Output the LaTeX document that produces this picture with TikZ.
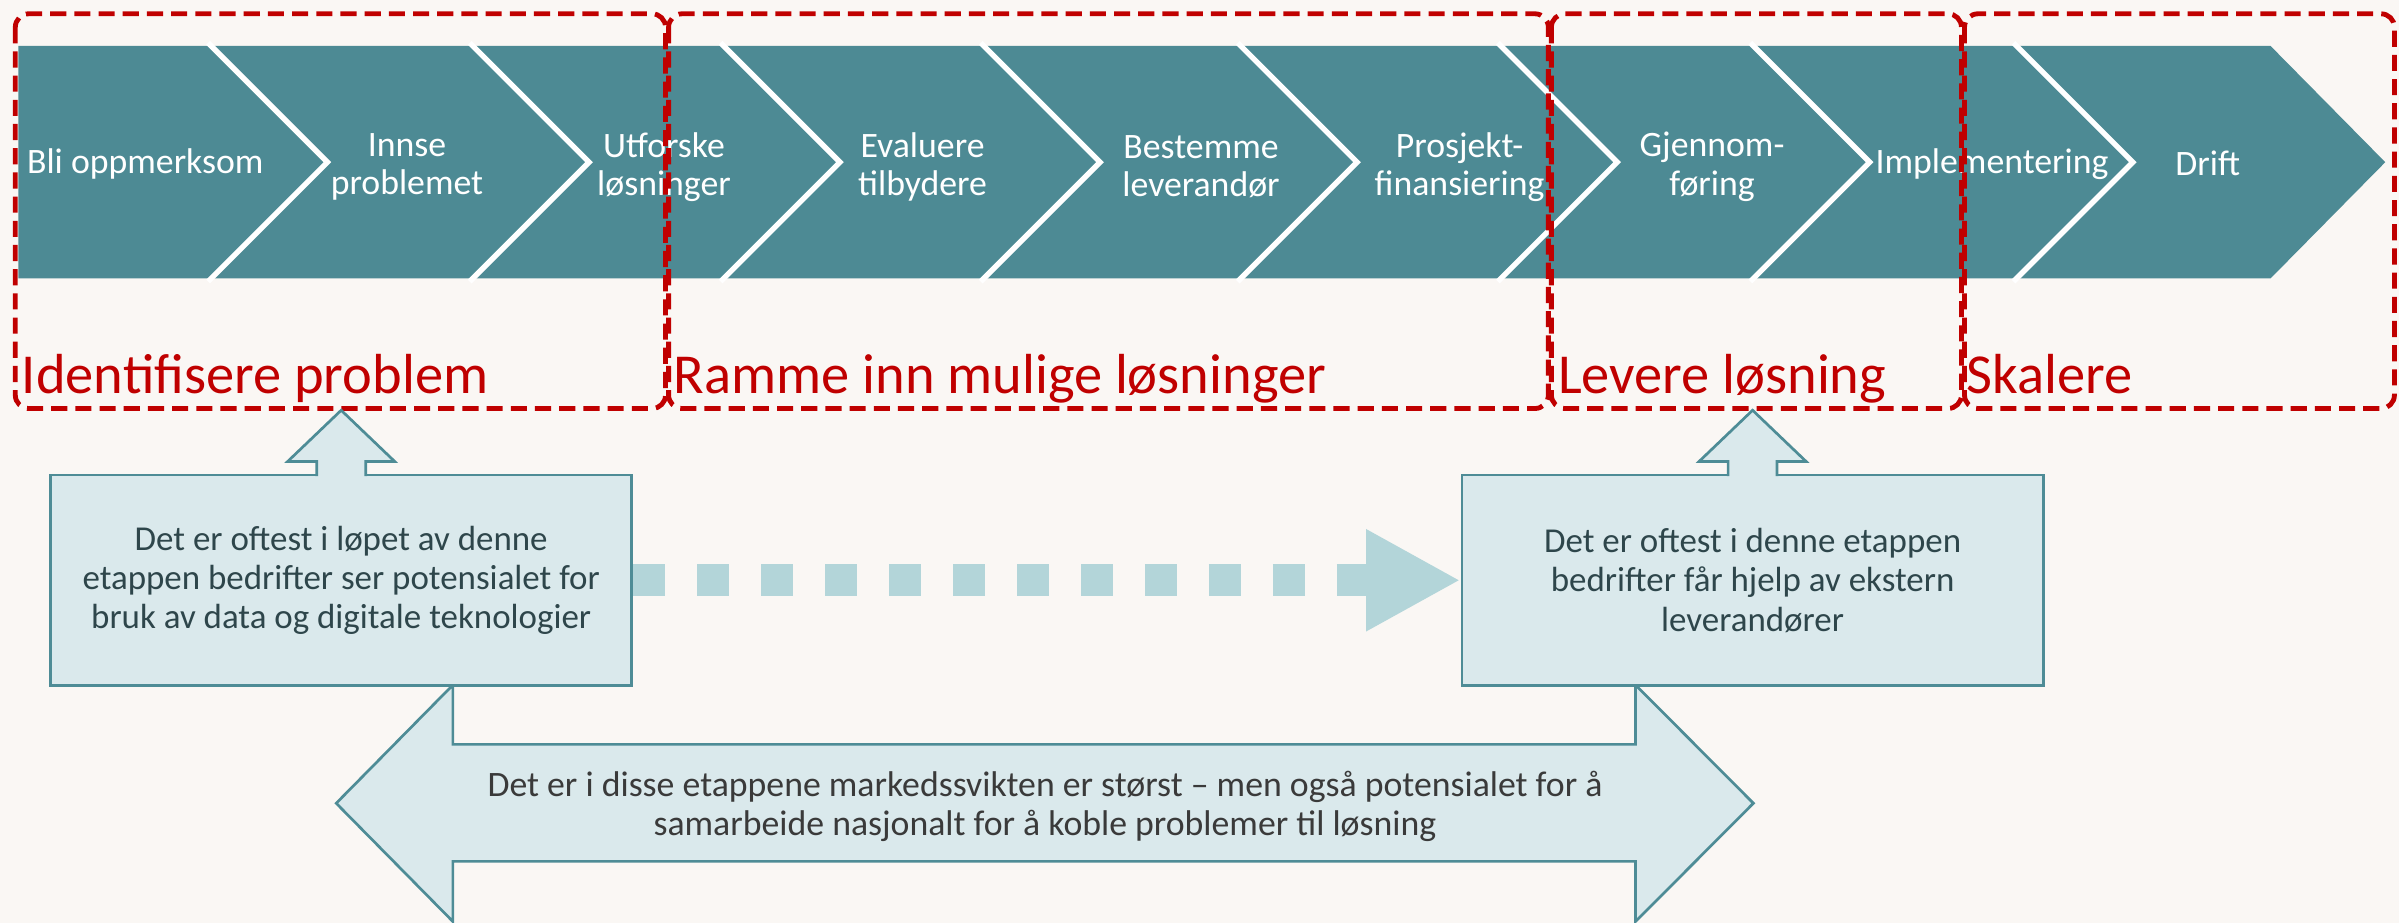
\documentclass[tikz,border=0pt]{standalone}
\usepackage{fontspec}
\setmainfont{Carlito}
\usetikzlibrary{positioning, calc, arrows.meta}

\definecolor{chevteal}{HTML}{4D8A94}
\definecolor{boxfill}{HTML}{DAE9EC}
\definecolor{boxline}{HTML}{4E8C96}
\definecolor{dotblue}{HTML}{B3D5D9}
\definecolor{phasered}{HTML}{C00000}
\definecolor{paper}{HTML}{FAF7F4}
\definecolor{boxtext}{HTML}{2E464B}
\definecolor{notegray}{HTML}{3A3A3A}

\begin{document}
\begin{tikzpicture}[
         x=0.02cm, y=-0.02cm,
         steplabel/.style={font=\fontsize{13.3}{14.2}\selectfont, white, align=center, inner sep=0pt},
         phase/.style={draw=phasered, line width=1.8pt, dash pattern=on 6pt off 3pt, rounded corners=5pt},
         phaselabel/.style={font=\fontsize{21}{24}\selectfont, phasered, anchor=base west, inner sep=0pt},
         infobox/.style={rectangle, draw=boxline, fill=boxfill, line width=1pt, minimum width=7.6cm, minimum height=2.75cm, align=center, font=\fontsize{13}{14.6}\selectfont, text=boxtext},
         callout/.style={draw=boxline, fill=boxfill, line width=1pt},
         dotflow/.style={dotblue, line width=11.9pt, dash pattern=on 11.9pt off 11.9pt, -{Triangle[length=35.2pt, width=35.4pt]}},
         bigarrow/.style={draw=boxline, fill=boxfill, line width=1pt},
         notetext/.style={align=center, font=\fontsize{13.3}{14.7}\selectfont, text=notegray}
      ]
         % Page and its margins
         \fill[paper] (0,0) rectangle (1568,603);
         \useasboundingbox (0,0) rectangle (1568,603);

         % Chevron band
         \fill[chevteal] (12,30) -- (1484,30) -- (1559,106) -- (1484,182) -- (12,182) -- cycle;
         \foreach \nx in {138,309,473,643,811,981,1146,1318}
            \draw[white, line width=2pt] (\nx-2,28) -- (\nx+76,106) -- (\nx-2,184);

         % Nodes for steps
         \node[steplabel] (s1) at (95,107) {Bli oppmerksom};
         \node[steplabel] (s2) at (266,109) {Innse\\problemet};
         \node[steplabel] (s3) at (434,109) {Utforske\\løsninger};
         \node[steplabel] (s4) at (603,109) {Evaluere\\tilbydere};
         \node[steplabel] (s5) at (785,109) {Bestemme\\leverandør};
         \node[steplabel] (s6) at (954,109) {Prosjekt-\\finansiering};
         \node[steplabel] (s7) at (1119,109) {Gjennom-\\føring};
         \node[steplabel] (s8) at (1302,107) {Implementering};
         \node[steplabel] (s9) at (1443,107) {Drift};

         % Phase frames
         \draw[phase] (10,9) rectangle (435,267);
         \draw[phase] (437,9) rectangle (1012,267);
         \draw[phase] (1014,9) rectangle (1282,267);
         \draw[phase] (1284,9) rectangle (1565,267);
         \node[phaselabel] (p1) at (14,257) {Identifisere problem};
         \node[phaselabel] (p2) at (440,257) {Ramme inn mulige løsninger};
         \node[phaselabel] (p3) at (1018,257) {Levere løsning};
         \node[phaselabel] (p4) at (1285,257) {Skalere};

         % Double arrow below
         \filldraw[bigarrow] (219.75,525) -- (296,447.7) -- (296,486.5) -- (1069,486.5) -- (1069,447.7)
            -- (1146,525) -- (1069,602.3) -- (1069,563) -- (296,563) -- (296,602.3) -- cycle;
         \node[notetext] (market) at (683,527) {Det er i disse etappene markedssvikten er størst – men også potensialet for å\\samarbeide nasjonalt for å koble problemer til løsning};

         % Info boxes
         \node[infobox] (infoA) at (223,379.25) {Det er oftest i løpet av denne\\etappen bedrifter ser potensialet for\\bruk av data og digitale teknologier};
         \node[infobox] (infoB) at (1145.5,379.25) {Det er oftest i denne etappen\\bedrifter får hjelp av ekstern\\leverandører};

         % Callouts up to the phases
         \foreach \b in {infoA,infoB}
            \filldraw[callout] ($(\b.north)+(-16,1.5)$) -- ($(\b.north)+(-16,-8)$) -- ($(\b.north)+(-35,-8)$)
               -- ($(\b.north)+(0,-41.5)$) -- ($(\b.north)+(35,-8)$) -- ($(\b.north)+(16,-8)$) -- ($(\b.north)+(16,1.5)$);

         % Dotted arrow between boxes
         \draw[dotflow] (infoA.east) -- (infoB.west);
      \end{tikzpicture}
\end{document}
